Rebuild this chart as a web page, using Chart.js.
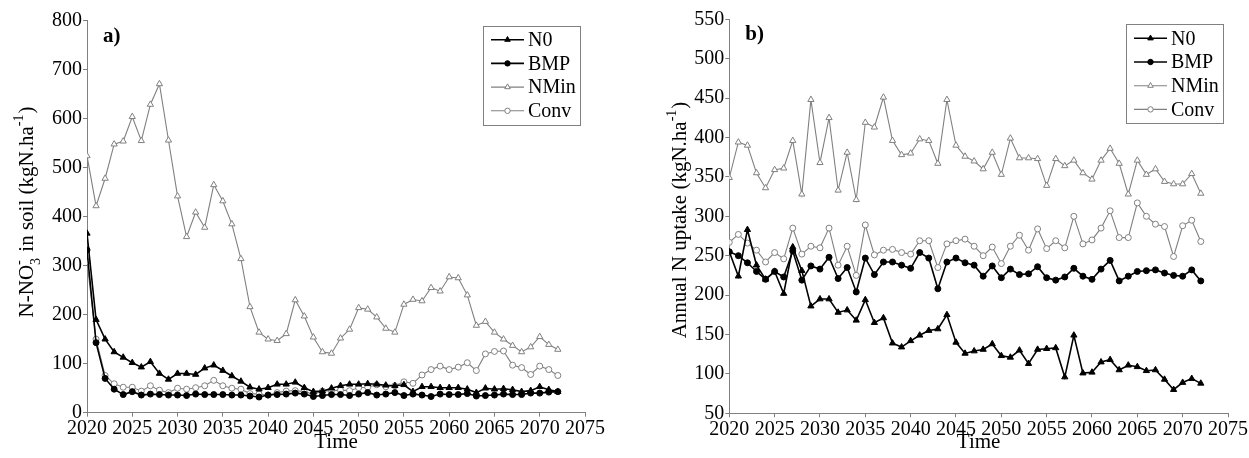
<!DOCTYPE html>
<html><head><meta charset="utf-8">
<script src="https://cdn.jsdelivr.net/npm/chart.js@4.4.0/dist/chart.umd.min.js"></script>
<style>
html,body{margin:0;padding:0;background:#fff;}
#wrap{position:relative;width:1249px;height:458px;overflow:hidden;}
.box{position:absolute;top:0;height:458px;}
#la{left:0;width:624px;} #lb{left:624px;width:625px;}
</style></head><body>
<div id="wrap"><div class="box" id="la"><canvas id="ca"></canvas></div><div class="box" id="lb"><canvas id="cb"></canvas></div></div>
<script>
const years = [2020,2021,2022,2023,2024,2025,2026,2027,2028,2029,
  2030,2031,2032,2033,2034,2035,2036,2037,2038,2039,
  2040,2041,2042,2043,2044,2045,2046,2047,2048,2049,
  2050,2051,2052,2053,2054,2055,2056,2057,2058,2059,
  2060,2061,2062,2063,2064,2065,2066,2067,2068,2069,
  2070,2071,2072];
const xTicks = [2020,2025,2030,2035,2040,2045,2050,2055,2060,2065,2070,2075];
const yTicksA = [0,100,200,300,400,500,600,700,800];
const yTicksB = [50,100,150,200,250,300,350,400,450,500,550];
const seriesNames = ['N0','BMP','NMin','Conv'];

// panel a) N-NO3- in soil
const a_N0 = [366,190,150,124,113,102,93,104,80,68,
  80,80,78,91,97,86,75,64,52,48,
  51,58,58,62,51,43,44,50,55,58,
  58,59,58,56,55,57,43,53,53,51,
  51,51,48,41,50,48,49,47,43,45,
  53,47,43];
const a_BMP = [332,143,70,48,37,43,36,38,37,36,
  36,35,38,37,37,37,36,36,34,32,
  36,37,38,40,38,33,35,37,37,35,
  38,41,36,38,41,35,38,36,33,38,
  37,37,39,34,35,36,38,37,37,40,
  40,42,43];
const a_NMin = [524,422,478,548,554,604,555,629,671,556,
  442,359,409,378,465,432,385,314,216,164,
  150,147,161,230,197,154,124,121,152,170,
  214,211,195,172,164,221,231,228,255,248,
  277,275,240,178,186,164,150,137,124,134,
  155,139,129];
const a_Conv = [308,150,76,59,52,52,44,55,46,41,
  50,48,51,55,66,55,50,48,39,38,
  36,41,44,45,43,38,44,45,46,45,
  51,52,57,53,55,63,60,77,88,95,
  88,93,102,86,120,125,126,97,92,78,
  95,88,76];

// panel b) Annual N uptake
const b_N0 = [255,224,283,238,220,230,202,261,231,186,
  195,195,178,181,168,194,165,171,139,134,
  142,149,155,157,175,140,126,129,131,138,
  123,121,130,113,131,132,133,96,149,101,
  102,115,118,105,111,109,104,105,93,80,
  89,94,88];
const b_BMP = [255,250,241,230,220,230,223,256,219,237,
  233,248,221,235,204,247,226,242,242,238,
  234,254,247,208,242,247,241,238,224,237,
  222,233,226,227,236,222,219,223,234,224,
  220,233,244,218,224,230,231,232,228,225,
  224,232,218];
const b_NMin = [349,394,390,355,336,359,361,396,328,448,
  368,425,333,381,321,419,413,451,396,378,
  380,398,396,367,448,390,376,370,360,381,
  353,399,374,374,373,339,373,364,371,355,
  347,371,386,367,328,371,353,360,344,341,
  341,354,329];
const b_Conv = [267,277,266,257,242,254,246,285,252,262,
  260,285,238,262,225,289,251,257,258,254,
  252,269,269,235,265,269,271,262,250,261,
  240,262,276,257,284,259,269,260,300,265,
  270,285,307,273,273,317,300,290,287,249,
  288,295,268];

const GRAY = '#808080';
const FONT = '"Liberation Serif", "Times New Roman", serif';
const styles = {
  N0:   {color:'#000', lw:1.6, ps:'triangle', r:3.6, fill:'#000'},
  BMP:  {color:'#000', lw:1.6, ps:'circle',   r:3.0, fill:'#000'},
  NMin: {color:GRAY,   lw:1.1, ps:'triangle', r:3.6, fill:'#fff'},
  Conv: {color:GRAY,   lw:1.1, ps:'circle',   r:3.0, fill:'#fff'}
};

function mkDatasets(arrs){
  return seriesNames.map((n,i)=>{
    const s = styles[n];
    return {
      label:n,
      data: years.map((y,j)=>({x:y, y:arrs[i][j]})),
      borderColor:s.color, borderWidth:s.lw,
      pointStyle:s.ps, pointRadius:s.r, pointBackgroundColor:s.fill,
      pointBorderColor:s.color, pointBorderWidth:1,
      tension:0, fill:false
    };
  });
}

function drawMarker(ctx, ps, x, y, r, fill, color){
  ctx.save();
  ctx.fillStyle = fill; ctx.strokeStyle = color; ctx.lineWidth = 1;
  ctx.beginPath();
  if (ps === 'triangle'){
    let rad = 0;
    ctx.moveTo(x + Math.sin(rad)*r, y - Math.cos(rad)*r);
    rad += 2*Math.PI/3; ctx.lineTo(x + Math.sin(rad)*r, y - Math.cos(rad)*r);
    rad += 2*Math.PI/3; ctx.lineTo(x + Math.sin(rad)*r, y - Math.cos(rad)*r);
    ctx.closePath();
  } else {
    ctx.arc(x, y, r, 0, Math.PI*2);
  }
  ctx.fill(); ctx.stroke();
  ctx.restore();
}

const decorPlugin = {
  id:'decor',
  afterDraw(chart, args, opts){
    const ctx = chart.ctx, ca = chart.chartArea;
    // panel label
    ctx.save();
    ctx.fillStyle = '#000';
    ctx.font = 'bold 21px ' + FONT;
    ctx.textBaseline = 'alphabetic'; ctx.textAlign = 'left';
    ctx.fillText(opts.panel, ca.left + 16, ca.top + 21);
    ctx.restore();
    // legend
    const bw = 97, bh = 99;
    const bx = ca.right - 5 - bw, by = ca.top + 5;
    ctx.save();
    ctx.fillStyle = '#fff'; ctx.fillRect(bx, by, bw, bh);
    ctx.strokeStyle = GRAY; ctx.lineWidth = 1;
    ctx.strokeRect(Math.round(bx)+0.5, Math.round(by)+0.5, bw, bh);
    ctx.font = '20px ' + FONT; ctx.textBaseline = 'middle'; ctx.textAlign = 'left';
    seriesNames.forEach((n,i)=>{
      const s = styles[n];
      const yy = by + 14 + i*23.7;
      ctx.strokeStyle = s.color; ctx.lineWidth = s.lw;
      ctx.beginPath(); ctx.moveTo(bx+8, yy); ctx.lineTo(bx+41, yy); ctx.stroke();
      drawMarker(ctx, s.ps, bx+24.5, yy, s.ps==='triangle'?3.2:2.7, s.fill, s.color);
      ctx.fillStyle = '#000';
      ctx.fillText(n, bx+45, yy+1);
    });
    ctx.restore();
    // rich y title
    const segs = opts.ytitle;
    ctx.save();
    ctx.translate(opts.yx, opts.yc);
    ctx.rotate(-Math.PI/2);
    ctx.fillStyle = '#000';
    ctx.textBaseline = 'alphabetic'; ctx.textAlign = 'left';
    const big = '21px ' + FONT, small = '14px ' + FONT;
    const widths = segs.map(sg=>{
      if (sg.t !== undefined){ ctx.font = big; return ctx.measureText(sg.t).width; }
      ctx.font = small;
      return Math.max(sg.sub ? ctx.measureText(sg.sub).width : 0, sg.sup ? ctx.measureText(sg.sup).width : 0) + 1;
    });
    const total = widths.reduce((a,b)=>a+b,0);
    let xx = -total/2;
    segs.forEach((sg,i)=>{
      if (sg.t !== undefined){ ctx.font = big; ctx.fillText(sg.t, xx, 0); }
      else {
        ctx.font = small;
        if (sg.sub) ctx.fillText(sg.sub, xx, 7);
        if (sg.sup) ctx.fillText(sg.sup, xx, -10);
      }
      xx += widths[i];
    });
    ctx.restore();
  }
};

function mkOptions(cfg){
  return {
    responsive:true, maintainAspectRatio:false, animation:false, events:[],
    layout:{padding:{top:cfg.padTop, right:cfg.padRight, left:0, bottom:0}},
    plugins:{
      legend:{display:false}, tooltip:{enabled:false}, title:{display:false},
      decor:{panel:cfg.panel, ytitle:cfg.ytitle, yx:cfg.yx, yc:cfg.yc}
    },
    scales:{
      x:{
        type:'linear', min:2020, max:2075,
        afterBuildTicks:s=>{ s.ticks = xTicks.map(v=>({value:v})); },
        afterFit:s=>{ s.height = cfg.xh; },
        grid:{display:true, drawOnChartArea:false, drawTicks:true, tickLength:4, color:GRAY},
        border:{display:true, color:GRAY, width:1},
        ticks:{color:'#000', font:{family:FONT, size:20}, padding:0, maxRotation:0, autoSkip:false,
          callback:v=>String(v)},
        title:{display:true, text:'Time', color:'#000', font:{family:FONT, size:21}, padding:{top:0,bottom:3}}
      },
      y:{
        type:'linear', min:cfg.ymin, max:cfg.ymax,
        afterBuildTicks:s=>{ s.ticks = cfg.yticks.map(v=>({value:v})); },
        afterFit:s=>{ s.width = cfg.yw; },
        grid:{display:true, drawOnChartArea:false, drawTicks:true, tickLength:4, color:GRAY},
        border:{display:true, color:GRAY, width:1},
        ticks:{color:'#000', font:{family:FONT, size:20}, padding:1, autoSkip:false,
          callback:v=>String(v)}
      }
    }
  };
}

new Chart(document.getElementById('ca'), {
  type:'line',
  data:{datasets:mkDatasets([a_N0,a_BMP,a_NMin,a_Conv])},
  options:mkOptions({padTop:20.7, padRight:39, xh:45.3, yw:87, ymin:0, ymax:800, yticks:yTicksA,
    panel:'a)', yx:33, yc:212,
    ytitle:[{t:'N-NO'},{sub:'3', sup:'-'},{t:' in soil (kgN.ha'},{sup:'-1'},{t:')'}]}),
  plugins:[decorPlugin]
});
new Chart(document.getElementById('cb'), {
  type:'line',
  data:{datasets:mkDatasets([b_N0,b_BMP,b_NMin,b_Conv])},
  options:mkOptions({padTop:19.3, padRight:21, xh:44.7, yw:105.3, ymin:50, ymax:550, yticks:yTicksB,
    panel:'b)', yx:62, yc:220,
    ytitle:[{t:'Annual N uptake (kgN.ha'},{sup:'-1'},{t:')'}]}),
  plugins:[decorPlugin]
});
</script>
</body></html>
